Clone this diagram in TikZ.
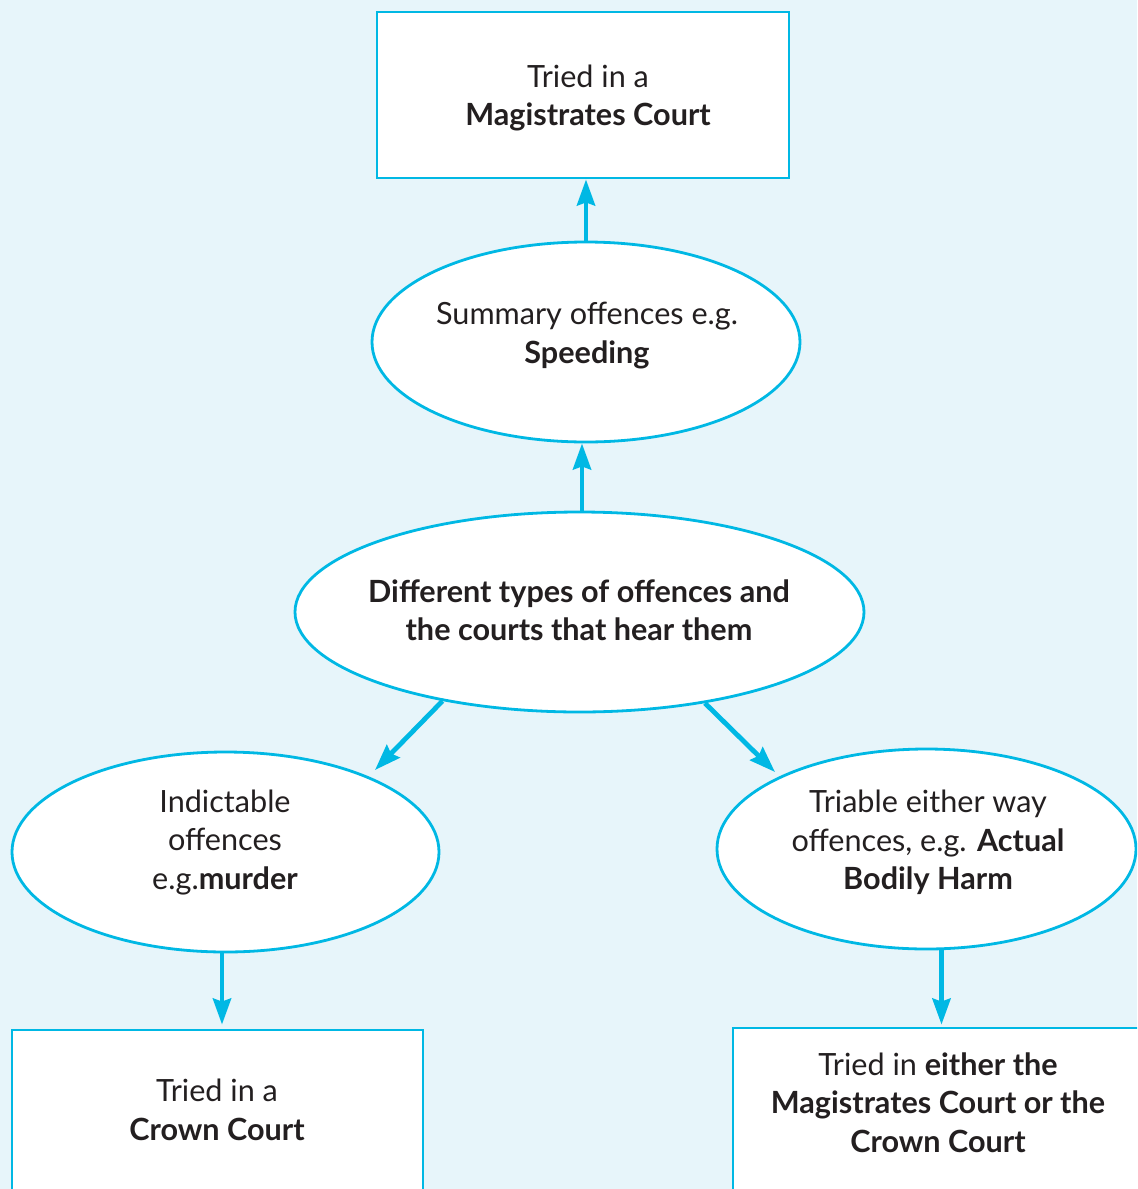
\documentclass[tikz,border=0pt]{standalone}
\usepackage{fontspec}
\setmainfont{Lato}
\usetikzlibrary{shapes.geometric,arrows.meta}
\definecolor{bg}{RGB}{231,245,250}
\definecolor{cy}{RGB}{0,184,228}
\definecolor{tx}{RGB}{35,31,32}
\begin{document}
\begin{tikzpicture}[x=0.5pt,y=-0.5pt,
 box/.style={draw=cy,line width=1.4pt,fill=white,inner sep=0pt},
 ell/.style={ellipse,draw=cy,line width=1.4pt,fill=white,inner sep=0pt},
 txt/.style={text=tx,align=center,inner sep=0pt,font=\fontsize{15.3}{19.2}\selectfont},
 arr/.style={draw=cy,line width=2.4pt,-{Stealth[length=13pt,width=9pt,inset=1.5pt]}}]
\fill[bg] (0,0) rectangle (1137,1189);
\useasboundingbox (0,0) rectangle (1137,1189);
\begin{scope}
\clip (0,0) rectangle (1137,1189);
% shapes
\node[box,minimum width=206pt,minimum height=83pt] (top) at (583,95) {};
\node[ell,minimum width=214pt,minimum height=100pt] (sum) at (586,342) {};
\node[ell,minimum width=284.5pt,minimum height=100pt] (cen) at (579.5,612) {};
\node[ell,minimum width=213.5pt,minimum height=100pt] (left) at (225.5,852) {};
\node[ell,minimum width=209.5pt,minimum height=100pt] (right) at (926.5,849) {};
\node[box,minimum width=205.5pt,minimum height=105pt] (lrect) at (217.5,1135) {};
\node[box,minimum width=208.5pt,minimum height=105pt] (rrect) at (941.5,1133) {};
% texts
\node[txt] (t1) at (588,98) {Tried in a\\\textbf{Magistrates Court}};
\node[txt] (t2) at (587,335.5) {Summary offences e.g.\\\textbf{Speeding}};
\node[txt] (t3) at (579,610) {\textbf{Different types of offences and}\\\textbf{the courts that hear them}};
\node[txt] (t4) at (225,842.5) {Indictable\\offences\\e.g.\textbf{murder}};
\node[txt] (t5) at (928,842.5) {Triable either way\\offences, e.g. \textbf{Actual}\\\textbf{Bodily Harm}};
\node[txt] (t6) at (217,1110) {Tried in a\\\textbf{Crown Court}};
\node[txt] (t7) at (938,1102.5) {Tried in \textbf{either the}\\\textbf{Magistrates Court or the}\\\textbf{Crown Court}};
% connectors
\coordinate (tl) at (375,770);
\coordinate (tr) at (775,772);
\draw[arr] (sum.north) -- (sum.north |- top.south);
\draw[arr] ([xshift=1.25pt]cen.north) -- ([xshift=1.25pt]cen.north |- sum.south);
\draw[arr] (cen.213) -- (tl);
\draw[arr] (cen.324) -- (tr);
\draw[arr,shorten >=2pt] ([xshift=-1.75pt]left.south) -- ([xshift=-1.75pt]left.south |- lrect.north);
\draw[arr,shorten >=1pt] (rrect.north |- right.south) -- (rrect.north);
\end{scope}
\end{tikzpicture}
\end{document}
